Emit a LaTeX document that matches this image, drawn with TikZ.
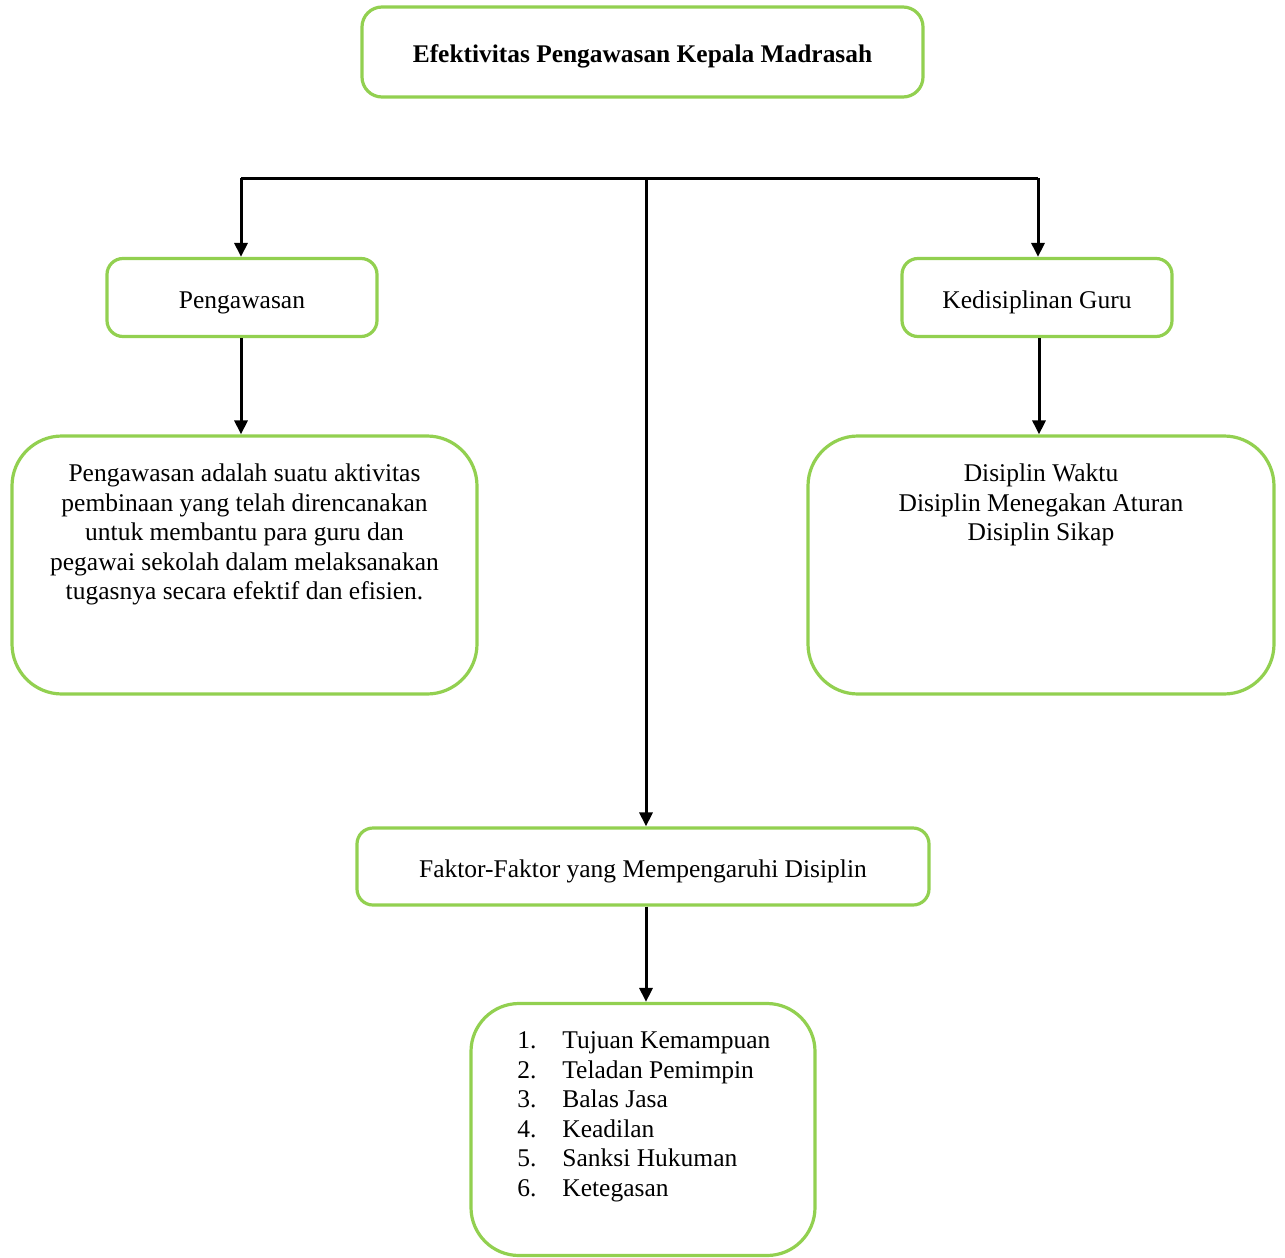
\documentclass[tikz,border=0pt]{standalone}
\usepackage{fontspec}
\setmainfont{Liberation Serif}
\usetikzlibrary{arrows.meta}
\definecolor{boxgreen}{RGB}{146,208,80}
\tikzset{
  box/.style={draw=boxgreen, line width=1.6pt, rounded corners=#1, inner sep=0pt, fill=white},
  box/.default=8pt,
  conn/.style={line width=1.5pt, -{Triangle[length=7pt,width=6.5pt]}},
  trunk/.style={line width=1.5pt},
  txt/.style={font=\fontsize{12.75}{14.75}\selectfont, inner sep=0pt},
  one/.style={txt, text depth=0pt, text height=10.7pt}
}
\begin{document}
\begin{tikzpicture}[x=0.5pt,y=-0.5pt]
\useasboundingbox (0,0) rectangle (1285,1258);
% boxes
\node[box=10pt, minimum width=280.5pt, minimum height=45pt, text depth=0pt, text height=10.7pt, font=\bfseries\fontsize{12.7}{14.75}\selectfont] (title) at (642.5,52) {Efektivitas Pengawasan Kepala Madrasah};
\node[box=8pt, minimum width=135pt, minimum height=39pt, one] (peng) at (242,297.5) {Pengawasan};
\node[box=8pt, minimum width=135pt, minimum height=39pt, one] (kedis) at (1037,297.5) {Kedisiplinan Guru};
\node[box=25pt, minimum width=232.5pt, minimum height=129pt] (lbox) at (244.5,565) {};
\node[box=25pt, minimum width=233pt, minimum height=129pt] (rbox) at (1041,565) {};
\node[box=8pt, minimum width=286pt, minimum height=38.5pt, one] (faktor) at (643,866.5) {Faktor-Faktor yang Mempengaruhi Disiplin};
\node[box=24pt, minimum width=172pt, minimum height=126pt] (fbox) at (643,1129.5) {};
% texts
\node[txt, align=center, anchor=north] (ltext) at (244.5,463.5) {Pengawasan adalah suatu aktivitas\\pembinaan yang telah direncanakan\\untuk membantu para guru dan\\pegawai sekolah dalam melaksanakan\\tugasnya secara efektif dan efisien.};
\node[txt, align=center, anchor=north] (rtext) at (1041,463.5) {Disiplin Waktu\\Disiplin Menegakan Aturan\\Disiplin Sikap};
\node[txt, align=left, anchor=north west] (ftext) at (517,1031.5) {\makebox[22.5pt][l]{1.}Tujuan Kemampuan\\\makebox[22.5pt][l]{2.}Teladan Pemimpin\\\makebox[22.5pt][l]{3.}Balas Jasa\\\makebox[22.5pt][l]{4.}Keadilan\\\makebox[22.5pt][l]{5.}Sanksi Hukuman\\\makebox[22.5pt][l]{6.}Ketegasan};
% connectors
\coordinate (jl) at (241,178);
\coordinate (jc) at (646,178);
\coordinate (jr) at (1038,178);
\draw[trunk] (jl) -- (jr);
\draw[conn] (jl) -- (jl |- peng.north);
\draw[conn] (jr) -- (jr |- kedis.north);
\draw[conn] (jc) -- (jc |- faktor.north);
\draw[conn] (peng.south -| jl) -- (jl |- lbox.north);
\draw[conn] ([xshift=1pt]kedis.south) -- ([xshift=1pt]kedis.south |- rbox.north);
\draw[conn] (faktor.south -| jc) -- (jc |- fbox.north);
\end{tikzpicture}
\end{document}
